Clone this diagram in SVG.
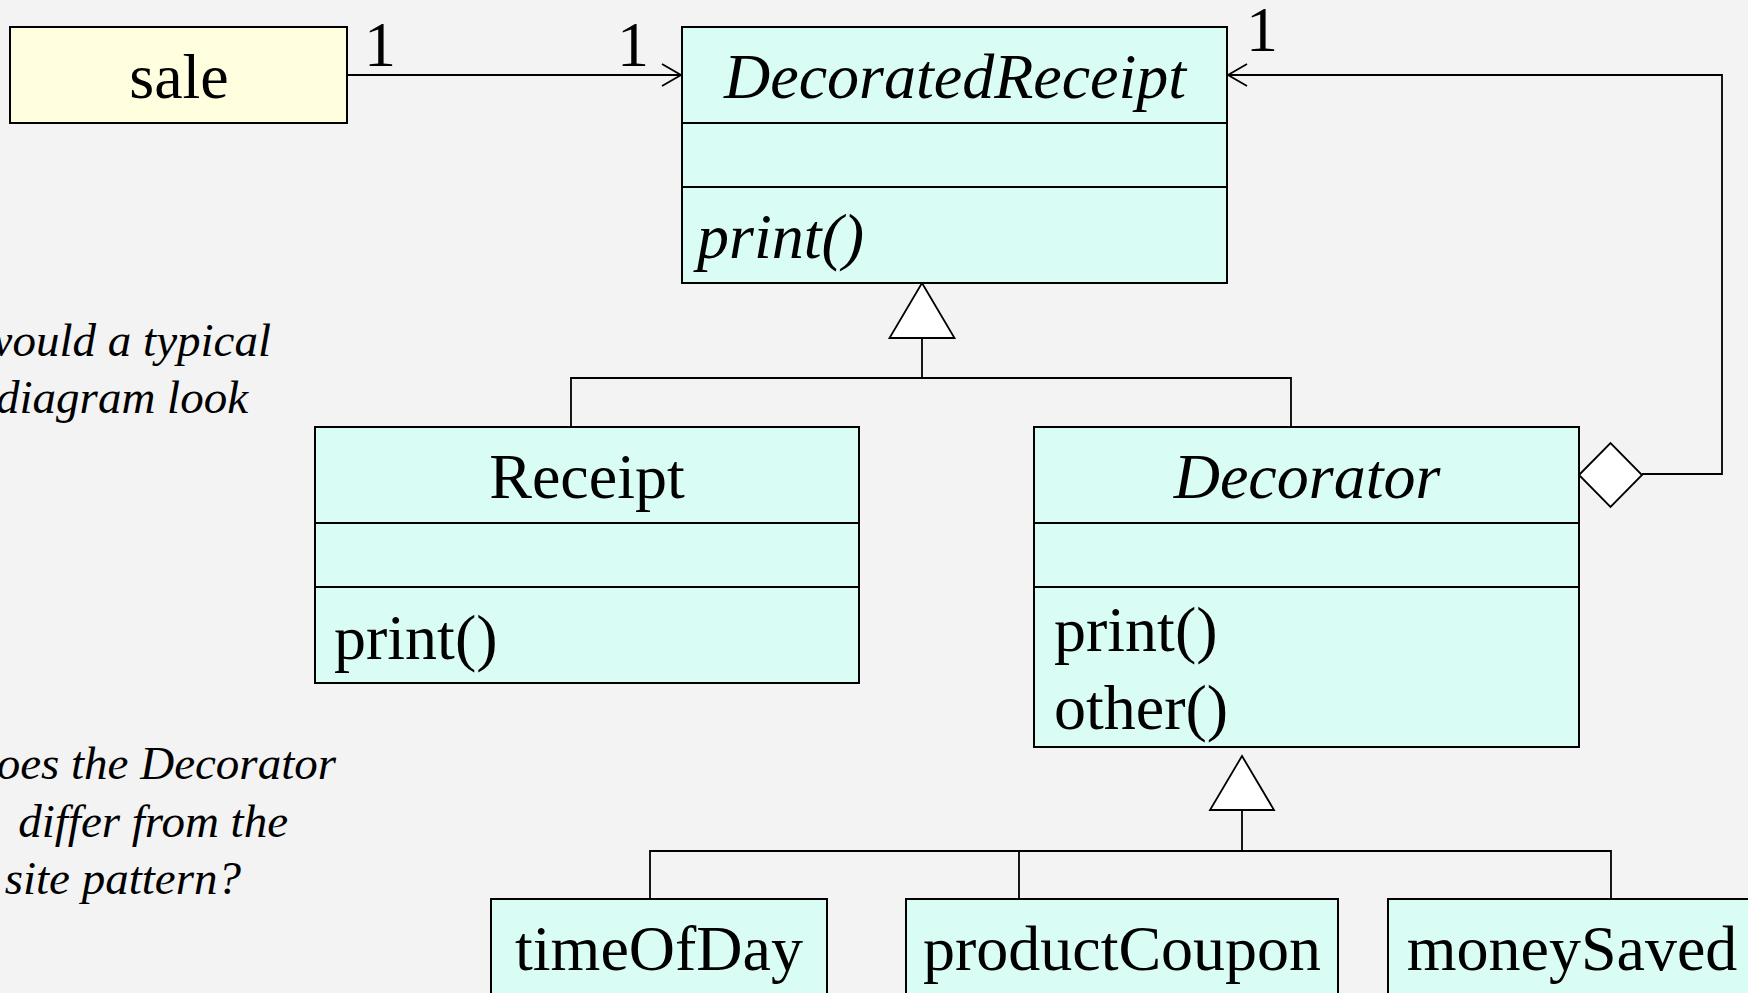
<svg xmlns="http://www.w3.org/2000/svg" width="1748" height="993" viewBox="0 0 1748 993">
<defs>
<style>
.bg{fill:#f3f3f3}
.box{fill:#d9fcf4;stroke:#000;stroke-width:2}
.sale{fill:#ffffe0;stroke:#000;stroke-width:2}
.div{stroke:#000;stroke-width:2}
.t{font-family:"Liberation Serif","Times New Roman",serif;font-size:64px;fill:#000}
.c{text-anchor:middle}
.i{font-style:italic}
.q{font-family:"Liberation Serif","Times New Roman",serif;font-size:47px;font-style:italic;fill:#000;text-anchor:end}
.ln{fill:none;stroke:#000;stroke-width:1.8}
.tri{fill:#fff;stroke:#000;stroke-width:1.8}
</style>
<marker id="open" markerWidth="24" markerHeight="26" refX="20" refY="12" orient="auto" markerUnits="userSpaceOnUse">
<path d="M1,1 L20,12 L1,23" fill="none" stroke="#000" stroke-width="1.8"/>
</marker>
</defs>
<rect class="bg" x="0" y="0" width="1748" height="993"/>

<g id="notes">
<text class="q" x="271" y="356">would a typical</text>
<text class="q" x="248" y="413">diagram look</text>
<text class="q" x="336" y="779">does the Decorator</text>
<text class="q" x="288" y="837">differ from the</text>
<text class="q" x="241" y="894">site pattern?</text>
</g>

<g id="connectors">
<path class="ln" d="M347,75 H681" marker-end="url(#open)"/>
<path class="ln" d="M1642,474 H1722 V75 H1228" marker-end="url(#open)"/>
<polygon class="tri" points="1579,475 1610.5,443 1642,475 1610.5,507"/>
<polygon class="tri" points="922,283 954.5,338 889.5,338"/>
<path class="ln" d="M922,338 V378 M571,427 V378 H1291 V427"/>
<polygon class="tri" points="1242,756 1274,810 1210,810"/>
<path class="ln" d="M1242,810 V851 M650,899 V851 H1611 V899 M1019,851 V899"/>
<text class="t c" x="380" y="66">1</text>
<text class="t c" x="633" y="66">1</text>
<text class="t c" x="1262" y="51">1</text>
</g>

<g id="sale">
<rect class="sale" x="10" y="27" width="337" height="96"/>
<text class="t c" x="179" y="98">sale</text>
</g>

<g id="DecoratedReceipt">
<rect class="box" x="682" y="27" width="545" height="256"/>
<line class="div" x1="682" y1="123" x2="1227" y2="123"/>
<line class="div" x1="682" y1="187" x2="1227" y2="187"/>
<text class="t c i" x="955" y="98">DecoratedReceipt</text>
<text class="t i" x="697" y="258">print()</text>
</g>

<g id="Receipt">
<rect class="box" x="315" y="427" width="544" height="256"/>
<line class="div" x1="315" y1="523" x2="859" y2="523"/>
<line class="div" x1="315" y1="587" x2="859" y2="587"/>
<text class="t c" x="587" y="498">Receipt</text>
<text class="t" x="334" y="659">print()</text>
</g>

<g id="Decorator">
<rect class="box" x="1034" y="427" width="545" height="320"/>
<line class="div" x1="1034" y1="523" x2="1579" y2="523"/>
<line class="div" x1="1034" y1="587" x2="1579" y2="587"/>
<text class="t c i" x="1307" y="498">Decorator</text>
<text class="t" x="1054" y="651">print()</text>
<text class="t" x="1054" y="729">other()</text>
</g>

<g id="timeOfDay">
<rect class="box" x="491" y="899" width="336" height="110"/>
<text class="t c" x="659" y="970">timeOfDay</text>
</g>

<g id="productCoupon">
<rect class="box" x="906" y="899" width="432" height="110"/>
<text class="t c" x="1122" y="970">productCoupon</text>
</g>

<g id="moneySaved">
<rect class="box" x="1388" y="899" width="370" height="110"/>
<text class="t c" x="1572" y="970">moneySaved</text>
</g>
</svg>
